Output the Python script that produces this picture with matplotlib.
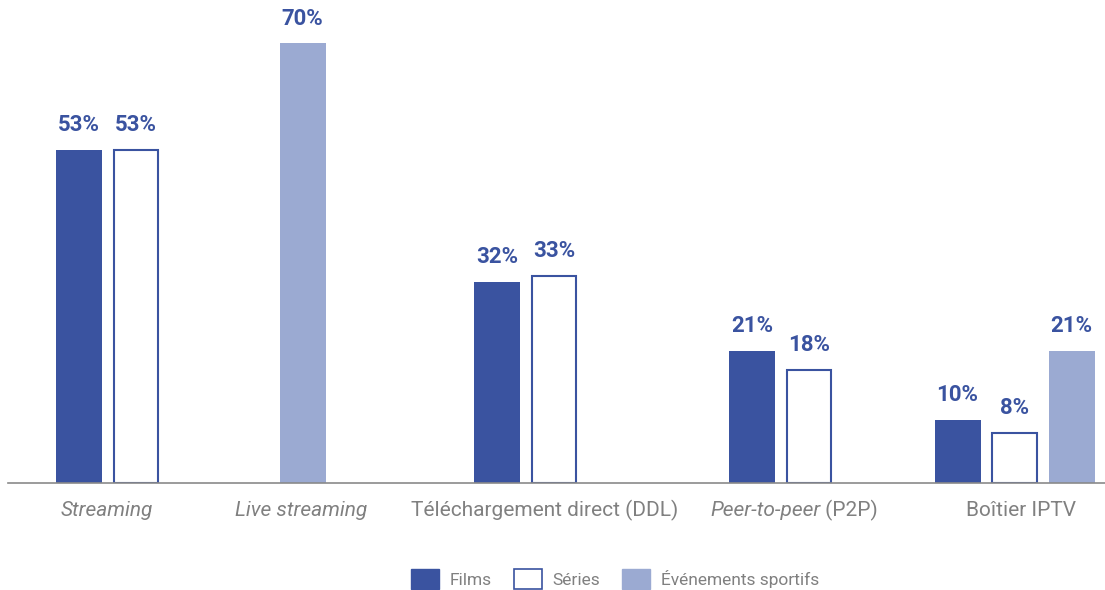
import matplotlib.pyplot as plt
from matplotlib.patches import Patch

# Données
categories = ['Streaming', 'Live streaming', 'Téléchargement direct (DDL)',
              'Peer-to-peer (P2P)', 'Boîtier IPTV']
films = [53, None, 32, 21, 10]
series = [53, None, 33, 18, 8]
sports = [None, 70, None, None, 21]

dark = '#3A53A0'
light = '#9BAAD2'
gray = '#808080'

fig = plt.figure(figsize=(11.05, 5.9), dpi=100)
ax = fig.add_axes([8 / 1105, 107 / 590, 1097 / 1105, 471 / 590])
ax.set_xlim(8, 1105)
ax.set_ylim(0, 75)

# centres des groupes et espacement des barres (mise en page)
centers = [107.5, 302.5, 525.5, 780.5, 1014.5]
width = 46
step = 57

label_font = dict(family='Roboto', fontweight='bold',
                  fontsize=16, color=dark)

for i, c in enumerate(centers):
    bars = []
    if films[i] is not None:
        bars.append(('f', films[i]))
    if series[i] is not None:
        bars.append(('s', series[i]))
    if sports[i] is not None:
        bars.append(('e', sports[i]))
    n = len(bars)
    for k, (kind, v) in enumerate(bars):
        x = c + (k - (n - 1) / 2) * step
        if kind == 'f':
            ax.bar(x, v, width=width, color=dark, linewidth=0)
        elif kind == 's':
            ax.bar(x, v, width=width - 1.5, color='white', edgecolor=dark, linewidth=1.5)
        else:
            ax.bar(x, v, width=width, color=light, linewidth=0)
        ax.text(x, v + 2.2, f'{v}%', ha='center', va='bottom', **label_font)

# axe
for s in ['top', 'right', 'left']:
    ax.spines[s].set_visible(False)
ax.spines['bottom'].set_color('#8A8A8A')
ax.spines['bottom'].set_linewidth(1.2)
ax.set_xticks([])
ax.set_yticks([])

# étiquettes des catégories
tfont = dict(family='Roboto', fontsize=15, color=gray, va='center')
ly = -4.3
ax.text(107, ly, 'Streaming', ha='center', style='italic', **tfont)
ax.text(301, ly, 'Live streaming', ha='center', style='italic', **tfont)
ax.text(545, ly, 'Téléchargement direct (DDL)', ha='center', **tfont)
t = ax.text(710, ly, 'Peer-to-peer', ha='left', style='italic', **tfont)
ax.annotate(' (P2P)', xy=(1, 0.5), xycoords=t, ha='left', va='center',
            family='Roboto', fontsize=15, color=gray)
ax.text(1021, ly, 'Boîtier IPTV', ha='center', **tfont)

# légende
handles = [Patch(facecolor=dark, edgecolor=dark),
           Patch(facecolor='white', edgecolor=dark, linewidth=1.2),
           Patch(facecolor=light, edgecolor=light)]
leg = fig.legend(handles, ['Films', 'Séries', 'Événements sportifs'], ncol=3,
                 loc='center', bbox_to_anchor=(615 / 1105, 1 - 579 / 590),
                 frameon=False, handlelength=1.6, handleheight=1.4,
                 columnspacing=1.3, handletextpad=0.6,
                 prop={'family': 'Roboto', 'size': 12.5})
for txt in leg.get_texts():
    txt.set_color(gray)

fig.savefig('out.png', dpi=100)
